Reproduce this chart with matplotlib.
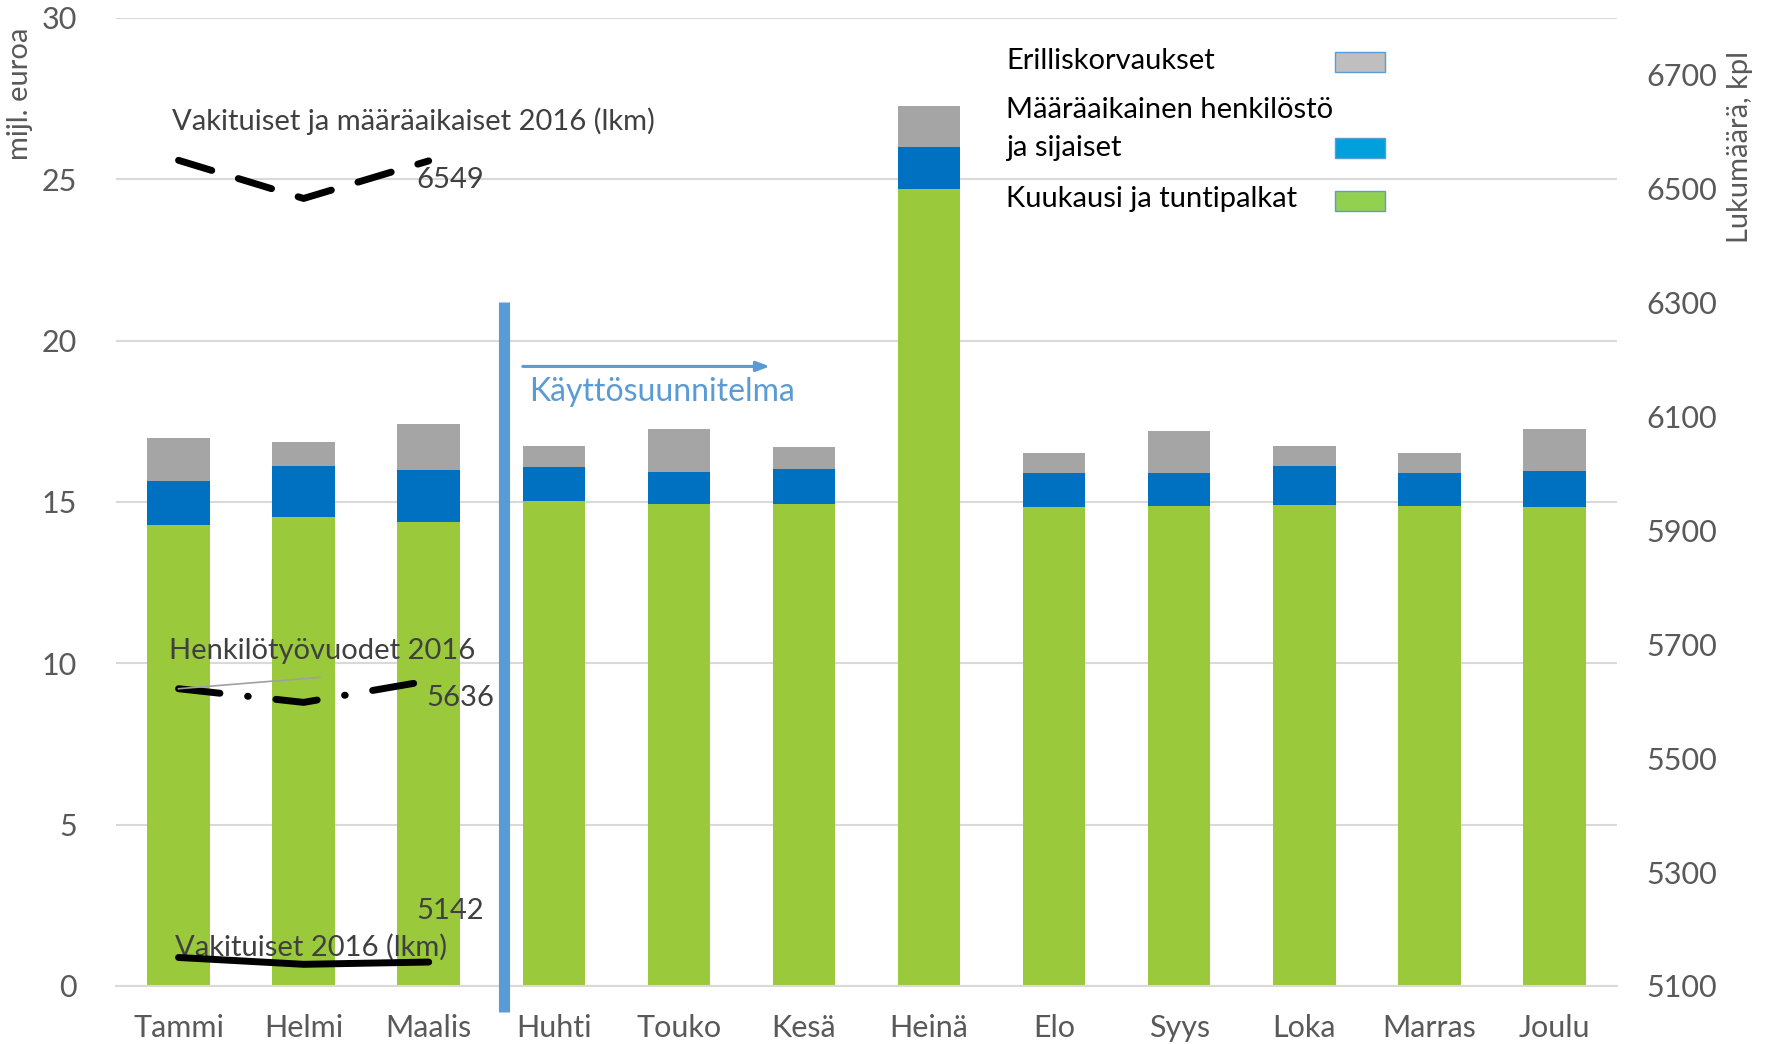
import matplotlib.pyplot as plt
import matplotlib.patches as mpatches
import numpy as np

plt.rcParams["font.family"] = ["Lato", "DejaVu Sans"]

# Monthly salary costs (milj. euroa)
months = ["Tammi", "Helmi", "Maalis", "Huhti", "Touko", "Kesä",
          "Heinä", "Elo", "Syys", "Loka", "Marras", "Joulu"]
green_top = [14.28, 14.53, 14.39, 15.02, 14.95, 14.95, 24.71, 14.84, 14.88, 14.91, 14.88, 14.84]
blue_top = [15.65, 16.10, 16.00, 16.07, 15.93, 16.03, 26.00, 15.89, 15.89, 16.10, 15.89, 15.96]
gray_top = [16.98, 16.87, 17.43, 16.73, 17.26, 16.70, 27.27, 16.52, 17.19, 16.73, 16.52, 17.26]

# Headcount lines (right axis), Jan-Mar 2016
fixed_and_temp = [6550, 6483, 6549]
person_years = [5622, 5598, 5636]
permanent = [5150, 5138, 5142]

kuukausi = np.array(green_top)
maaraaik = np.array(blue_top) - np.array(green_top)
erillis = np.array(gray_top) - np.array(blue_top)

C_GREEN = "#9BC93C"
C_BLUE = "#0070C0"
C_GRAY = "#A5A5A5"
C_ACCENT = "#5B9BD5"
C_TICK = "#595959"
C_TEXT = "#404040"

W, H = 1771.0, 1044.0
fig = plt.figure(figsize=(W / 100, H / 100), dpi=100)
ax = fig.add_axes([0.0655, 0.0556, 0.8475, 0.9272])
x = np.arange(len(months))

ax.bar(x, kuukausi, width=0.5, color=C_GREEN, zorder=2)
ax.bar(x, maaraaik, width=0.5, bottom=kuukausi, color=C_BLUE, zorder=2)
ax.bar(x, erillis, width=0.5, bottom=kuukausi + maaraaik, color=C_GRAY, zorder=2)

ax.set_xlim(-0.5, len(months) - 0.5)
ax.set_ylim(0, 30)
ax.set_yticks(range(0, 31, 5))
ax.set_xticks(x)
ax.set_xticklabels(months)
ax.grid(axis="y", color="#D9D9D9", linewidth=1.5, zorder=0)
for s in ["top", "left", "right"]:
    ax.spines[s].set_visible(False)
ax.spines["bottom"].set_color("#D9D9D9")
ax.spines["bottom"].set_linewidth(1.5)
ax.tick_params(axis="both", length=0, labelsize=22, labelcolor=C_TICK)
ax.tick_params(axis="y", pad=28)
ax.tick_params(axis="x", pad=20)
fig.text(20 / W, 1 - 94 / H, "mijl. euroa", fontsize=21, color=C_TICK,
         rotation=90, ha="center", va="center")

ax2 = ax.twinx()
ax2.set_ylim(5100, 6800)
ax2.set_yticks(range(5100, 6800, 200))
for s in ax2.spines.values():
    s.set_visible(False)
ax2.tick_params(axis="y", length=0, labelsize=22, labelcolor=C_TICK, pad=21)
fig.text(1740 / W, 1 - 147 / H, "Lukumäärä, kpl", fontsize=21, color=C_TICK,
         rotation=90, ha="center", va="center")

xl = x[:3]
ax2.plot(xl, fixed_and_temp, color="black", linewidth=5, linestyle=(0, (5, 4)),
         dash_capstyle="round", zorder=4)
ax2.plot(xl, person_years, color="black", linewidth=5, linestyle=(0, (6, 4, 0.1, 4)),
         dash_capstyle="round", zorder=4)
ax2.plot(xl, permanent, color="black", linewidth=5, solid_capstyle="round", zorder=4)

ax2.text(-0.05, 6618, "Vakituiset ja määräaikaiset 2016 (lkm)", fontsize=21,
         color=C_TEXT, va="center")
ax2.text(1.9, fixed_and_temp[2] - 10, str(fixed_and_temp[2]), fontsize=21,
         color=C_TEXT, va="top")
ax2.text(-0.08, 5688, "Henkilötyövuodet 2016", fontsize=21, color=C_TEXT, va="center")
ax2.plot([0, 1.13], [person_years[0], person_years[0] + 20], color="#A0A0A0",
         linewidth=1.2, zorder=5)
ax2.text(1.98, person_years[2] - 8, str(person_years[2]), fontsize=21, color=C_TEXT, va="top")
ax2.text(1.9, 5232, str(permanent[2]), fontsize=21, color=C_TEXT, va="center")
ax2.text(-0.03, 5168, "Vakituiset 2016 (lkm)", fontsize=21, color=C_TEXT, va="center",
         zorder=3)

# Käyttösuunnitelma marker
ax.plot([2.6, 2.6], [-0.8, 21.2], color=C_ACCENT, linewidth=8, clip_on=False,
        solid_capstyle="butt", zorder=3)
ax.annotate("", xy=(4.75, 19.2), xytext=(2.73, 19.2),
            arrowprops=dict(arrowstyle="-|>,head_length=0.8,head_width=0.3",
                            color=C_ACCENT, linewidth=2.2))
ax.text(2.8, 18.4, "Käyttösuunnitelma", fontsize=23, color=C_ACCENT, va="center")

# Legend drawn by hand
legend_rows = [
    ("Erilliskorvaukset", "#BFBFBF", 61, 62),
    ("Määräaikainen henkilöstö\nja sijaiset", "#00A0DC", 129, 148),
    ("Kuukausi ja tuntipalkat", "#92D050", 199, 201),
]
for label, col, ty, py in legend_rows:
    fig.text(1006 / W, 1 - ty / H, label, fontsize=21, color="black", va="center",
             linespacing=1.55)
    fig.patches.append(mpatches.Rectangle((1335 / W, 1 - (py + 10) / H), 50 / W, 20 / H,
                                          facecolor=col, edgecolor=C_ACCENT, linewidth=1,
                                          transform=fig.transFigure, figure=fig))

fig.savefig("out.png", dpi=100)
